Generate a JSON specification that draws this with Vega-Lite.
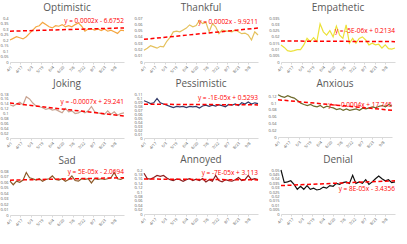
{
"$schema":"https://vega.github.io/schema/vega-lite/v6.json",
"background":"white",
"padding":{"left":0,"top":3,"right":0,"bottom":0},
"config":{"view":{"stroke":null},"font":"Open Sans","axis":{"labelOverlap":false}},
"data":{"values":[
{"emotion":"Optimistic","kind":"line","date":"2018-04-01","value":0.2},{"emotion":"Optimistic","kind":"line","date":"2018-04-06","value":0.215},{"emotion":"Optimistic","kind":"line","date":"2018-04-11","value":0.23},{"emotion":"Optimistic","kind":"line","date":"2018-04-16","value":0.22},{"emotion":"Optimistic","kind":"line","date":"2018-04-21","value":0.21},{"emotion":"Optimistic","kind":"line","date":"2018-04-26","value":0.23},{"emotion":"Optimistic","kind":"line","date":"2018-05-01","value":0.26},{"emotion":"Optimistic","kind":"line","date":"2018-05-06","value":0.29},{"emotion":"Optimistic","kind":"line","date":"2018-05-11","value":0.32},{"emotion":"Optimistic","kind":"line","date":"2018-05-16","value":0.33},{"emotion":"Optimistic","kind":"line","date":"2018-05-21","value":0.36},{"emotion":"Optimistic","kind":"line","date":"2018-05-26","value":0.34},{"emotion":"Optimistic","kind":"line","date":"2018-05-31","value":0.32},{"emotion":"Optimistic","kind":"line","date":"2018-06-05","value":0.31},{"emotion":"Optimistic","kind":"line","date":"2018-06-10","value":0.33},{"emotion":"Optimistic","kind":"line","date":"2018-06-15","value":0.325},{"emotion":"Optimistic","kind":"line","date":"2018-06-20","value":0.34},{"emotion":"Optimistic","kind":"line","date":"2018-06-25","value":0.32},{"emotion":"Optimistic","kind":"line","date":"2018-06-30","value":0.33},{"emotion":"Optimistic","kind":"line","date":"2018-07-05","value":0.32},{"emotion":"Optimistic","kind":"line","date":"2018-07-10","value":0.34},{"emotion":"Optimistic","kind":"line","date":"2018-07-15","value":0.355},{"emotion":"Optimistic","kind":"line","date":"2018-07-20","value":0.325},{"emotion":"Optimistic","kind":"line","date":"2018-07-25","value":0.28},{"emotion":"Optimistic","kind":"line","date":"2018-07-30","value":0.3},{"emotion":"Optimistic","kind":"line","date":"2018-08-04","value":0.3},{"emotion":"Optimistic","kind":"line","date":"2018-08-09","value":0.29},{"emotion":"Optimistic","kind":"line","date":"2018-08-14","value":0.3},{"emotion":"Optimistic","kind":"line","date":"2018-08-19","value":0.285},{"emotion":"Optimistic","kind":"line","date":"2018-08-24","value":0.3},{"emotion":"Optimistic","kind":"line","date":"2018-08-29","value":0.28},{"emotion":"Optimistic","kind":"line","date":"2018-09-03","value":0.29},{"emotion":"Optimistic","kind":"line","date":"2018-09-08","value":0.275},{"emotion":"Optimistic","kind":"line","date":"2018-09-13","value":0.26},{"emotion":"Optimistic","kind":"line","date":"2018-09-18","value":0.29},{"emotion":"Optimistic","kind":"line","date":"2018-09-23","value":0.285},
{"emotion":"Thankful","kind":"line","date":"2018-04-01","value":0.0185},{"emotion":"Thankful","kind":"line","date":"2018-04-06","value":0.022},{"emotion":"Thankful","kind":"line","date":"2018-04-11","value":0.026},{"emotion":"Thankful","kind":"line","date":"2018-04-16","value":0.024},{"emotion":"Thankful","kind":"line","date":"2018-04-21","value":0.022},{"emotion":"Thankful","kind":"line","date":"2018-04-26","value":0.025},{"emotion":"Thankful","kind":"line","date":"2018-05-01","value":0.024},{"emotion":"Thankful","kind":"line","date":"2018-05-06","value":0.033},{"emotion":"Thankful","kind":"line","date":"2018-05-11","value":0.039},{"emotion":"Thankful","kind":"line","date":"2018-05-16","value":0.048},{"emotion":"Thankful","kind":"line","date":"2018-05-21","value":0.049},{"emotion":"Thankful","kind":"line","date":"2018-05-26","value":0.048},{"emotion":"Thankful","kind":"line","date":"2018-05-31","value":0.051},{"emotion":"Thankful","kind":"line","date":"2018-06-05","value":0.054},{"emotion":"Thankful","kind":"line","date":"2018-06-10","value":0.059},{"emotion":"Thankful","kind":"line","date":"2018-06-15","value":0.056},{"emotion":"Thankful","kind":"line","date":"2018-06-20","value":0.058},{"emotion":"Thankful","kind":"line","date":"2018-06-25","value":0.066},{"emotion":"Thankful","kind":"line","date":"2018-06-30","value":0.061},{"emotion":"Thankful","kind":"line","date":"2018-07-05","value":0.063},{"emotion":"Thankful","kind":"line","date":"2018-07-10","value":0.048},{"emotion":"Thankful","kind":"line","date":"2018-07-15","value":0.061},{"emotion":"Thankful","kind":"line","date":"2018-07-20","value":0.056},{"emotion":"Thankful","kind":"line","date":"2018-07-25","value":0.045},{"emotion":"Thankful","kind":"line","date":"2018-07-30","value":0.051},{"emotion":"Thankful","kind":"line","date":"2018-08-04","value":0.049},{"emotion":"Thankful","kind":"line","date":"2018-08-09","value":0.049},{"emotion":"Thankful","kind":"line","date":"2018-08-14","value":0.048},{"emotion":"Thankful","kind":"line","date":"2018-08-19","value":0.051},{"emotion":"Thankful","kind":"line","date":"2018-08-24","value":0.048},{"emotion":"Thankful","kind":"line","date":"2018-08-29","value":0.045},{"emotion":"Thankful","kind":"line","date":"2018-09-03","value":0.046},{"emotion":"Thankful","kind":"line","date":"2018-09-08","value":0.043},{"emotion":"Thankful","kind":"line","date":"2018-09-13","value":0.035},{"emotion":"Thankful","kind":"line","date":"2018-09-18","value":0.048},{"emotion":"Thankful","kind":"line","date":"2018-09-23","value":0.043},
{"emotion":"Empathetic","kind":"line","date":"2018-04-01","value":0.0136},{"emotion":"Empathetic","kind":"line","date":"2018-04-06","value":0.0116},{"emotion":"Empathetic","kind":"line","date":"2018-04-11","value":0.009},{"emotion":"Empathetic","kind":"line","date":"2018-04-16","value":0.0085},{"emotion":"Empathetic","kind":"line","date":"2018-04-21","value":0.009},{"emotion":"Empathetic","kind":"line","date":"2018-04-26","value":0.0098},{"emotion":"Empathetic","kind":"line","date":"2018-05-01","value":0.0098},{"emotion":"Empathetic","kind":"line","date":"2018-05-06","value":0.0136},{"emotion":"Empathetic","kind":"line","date":"2018-05-11","value":0.0188},{"emotion":"Empathetic","kind":"line","date":"2018-05-16","value":0.0162},{"emotion":"Empathetic","kind":"line","date":"2018-05-21","value":0.0193},{"emotion":"Empathetic","kind":"line","date":"2018-05-26","value":0.0162},{"emotion":"Empathetic","kind":"line","date":"2018-05-31","value":0.0304},{"emotion":"Empathetic","kind":"line","date":"2018-06-05","value":0.024},{"emotion":"Empathetic","kind":"line","date":"2018-06-10","value":0.0214},{"emotion":"Empathetic","kind":"line","date":"2018-06-15","value":0.025},{"emotion":"Empathetic","kind":"line","date":"2018-06-20","value":0.02},{"emotion":"Empathetic","kind":"line","date":"2018-06-25","value":0.0286},{"emotion":"Empathetic","kind":"line","date":"2018-06-30","value":0.0214},{"emotion":"Empathetic","kind":"line","date":"2018-07-05","value":0.0188},{"emotion":"Empathetic","kind":"line","date":"2018-07-10","value":0.0296},{"emotion":"Empathetic","kind":"line","date":"2018-07-15","value":0.0149},{"emotion":"Empathetic","kind":"line","date":"2018-07-20","value":0.0188},{"emotion":"Empathetic","kind":"line","date":"2018-07-25","value":0.0149},{"emotion":"Empathetic","kind":"line","date":"2018-07-30","value":0.0188},{"emotion":"Empathetic","kind":"line","date":"2018-08-04","value":0.02},{"emotion":"Empathetic","kind":"line","date":"2018-08-09","value":0.0175},{"emotion":"Empathetic","kind":"line","date":"2018-08-14","value":0.0136},{"emotion":"Empathetic","kind":"line","date":"2018-08-19","value":0.0149},{"emotion":"Empathetic","kind":"line","date":"2018-08-24","value":0.0136},{"emotion":"Empathetic","kind":"line","date":"2018-08-29","value":0.0141},{"emotion":"Empathetic","kind":"line","date":"2018-09-03","value":0.0111},{"emotion":"Empathetic","kind":"line","date":"2018-09-08","value":0.0136},{"emotion":"Empathetic","kind":"line","date":"2018-09-13","value":0.0106},{"emotion":"Empathetic","kind":"line","date":"2018-09-18","value":0.0103},{"emotion":"Empathetic","kind":"line","date":"2018-09-23","value":0.0111},
{"emotion":"Joking","kind":"line","date":"2018-04-01","value":0.136},{"emotion":"Joking","kind":"line","date":"2018-04-06","value":0.131},{"emotion":"Joking","kind":"line","date":"2018-04-11","value":0.139},{"emotion":"Joking","kind":"line","date":"2018-04-16","value":0.146},{"emotion":"Joking","kind":"line","date":"2018-04-21","value":0.136},{"emotion":"Joking","kind":"line","date":"2018-04-26","value":0.169},{"emotion":"Joking","kind":"line","date":"2018-05-01","value":0.16},{"emotion":"Joking","kind":"line","date":"2018-05-06","value":0.143},{"emotion":"Joking","kind":"line","date":"2018-05-11","value":0.131},{"emotion":"Joking","kind":"line","date":"2018-05-16","value":0.129},{"emotion":"Joking","kind":"line","date":"2018-05-21","value":0.124},{"emotion":"Joking","kind":"line","date":"2018-05-26","value":0.117},{"emotion":"Joking","kind":"line","date":"2018-05-31","value":0.121},{"emotion":"Joking","kind":"line","date":"2018-06-05","value":0.114},{"emotion":"Joking","kind":"line","date":"2018-06-10","value":0.117},{"emotion":"Joking","kind":"line","date":"2018-06-15","value":0.11},{"emotion":"Joking","kind":"line","date":"2018-06-20","value":0.103},{"emotion":"Joking","kind":"line","date":"2018-06-25","value":0.121},{"emotion":"Joking","kind":"line","date":"2018-06-30","value":0.107},{"emotion":"Joking","kind":"line","date":"2018-07-05","value":0.111},{"emotion":"Joking","kind":"line","date":"2018-07-10","value":0.1},{"emotion":"Joking","kind":"line","date":"2018-07-15","value":0.103},{"emotion":"Joking","kind":"line","date":"2018-07-20","value":0.111},{"emotion":"Joking","kind":"line","date":"2018-07-25","value":0.103},{"emotion":"Joking","kind":"line","date":"2018-07-30","value":0.111},{"emotion":"Joking","kind":"line","date":"2018-08-04","value":0.129},{"emotion":"Joking","kind":"line","date":"2018-08-09","value":0.107},{"emotion":"Joking","kind":"line","date":"2018-08-14","value":0.103},{"emotion":"Joking","kind":"line","date":"2018-08-19","value":0.1},{"emotion":"Joking","kind":"line","date":"2018-08-24","value":0.097},{"emotion":"Joking","kind":"line","date":"2018-08-29","value":0.111},{"emotion":"Joking","kind":"line","date":"2018-09-03","value":0.097},{"emotion":"Joking","kind":"line","date":"2018-09-08","value":0.107},{"emotion":"Joking","kind":"line","date":"2018-09-13","value":0.093},{"emotion":"Joking","kind":"line","date":"2018-09-18","value":0.1},{"emotion":"Joking","kind":"line","date":"2018-09-23","value":0.103},
{"emotion":"Pessimistic","kind":"line","date":"2018-04-01","value":0.093},{"emotion":"Pessimistic","kind":"line","date":"2018-04-06","value":0.09},{"emotion":"Pessimistic","kind":"line","date":"2018-04-11","value":0.086},{"emotion":"Pessimistic","kind":"line","date":"2018-04-16","value":0.088},{"emotion":"Pessimistic","kind":"line","date":"2018-04-21","value":0.099},{"emotion":"Pessimistic","kind":"line","date":"2018-04-26","value":0.088},{"emotion":"Pessimistic","kind":"line","date":"2018-05-01","value":0.085},{"emotion":"Pessimistic","kind":"line","date":"2018-05-06","value":0.082},{"emotion":"Pessimistic","kind":"line","date":"2018-05-11","value":0.079},{"emotion":"Pessimistic","kind":"line","date":"2018-05-16","value":0.076},{"emotion":"Pessimistic","kind":"line","date":"2018-05-21","value":0.079},{"emotion":"Pessimistic","kind":"line","date":"2018-05-26","value":0.078},{"emotion":"Pessimistic","kind":"line","date":"2018-05-31","value":0.079},{"emotion":"Pessimistic","kind":"line","date":"2018-06-05","value":0.076},{"emotion":"Pessimistic","kind":"line","date":"2018-06-10","value":0.079},{"emotion":"Pessimistic","kind":"line","date":"2018-06-15","value":0.078},{"emotion":"Pessimistic","kind":"line","date":"2018-06-20","value":0.079},{"emotion":"Pessimistic","kind":"line","date":"2018-06-25","value":0.075},{"emotion":"Pessimistic","kind":"line","date":"2018-06-30","value":0.08},{"emotion":"Pessimistic","kind":"line","date":"2018-07-05","value":0.082},{"emotion":"Pessimistic","kind":"line","date":"2018-07-10","value":0.079},{"emotion":"Pessimistic","kind":"line","date":"2018-07-15","value":0.082},{"emotion":"Pessimistic","kind":"line","date":"2018-07-20","value":0.08},{"emotion":"Pessimistic","kind":"line","date":"2018-07-25","value":0.083},{"emotion":"Pessimistic","kind":"line","date":"2018-07-30","value":0.081},{"emotion":"Pessimistic","kind":"line","date":"2018-08-04","value":0.078},{"emotion":"Pessimistic","kind":"line","date":"2018-08-09","value":0.084},{"emotion":"Pessimistic","kind":"line","date":"2018-08-14","value":0.082},{"emotion":"Pessimistic","kind":"line","date":"2018-08-19","value":0.085},{"emotion":"Pessimistic","kind":"line","date":"2018-08-24","value":0.081},{"emotion":"Pessimistic","kind":"line","date":"2018-08-29","value":0.088},{"emotion":"Pessimistic","kind":"line","date":"2018-09-03","value":0.085},{"emotion":"Pessimistic","kind":"line","date":"2018-09-08","value":0.09},{"emotion":"Pessimistic","kind":"line","date":"2018-09-13","value":0.085},{"emotion":"Pessimistic","kind":"line","date":"2018-09-18","value":0.088},{"emotion":"Pessimistic","kind":"line","date":"2018-09-23","value":0.086},
{"emotion":"Anxious","kind":"line","date":"2018-04-01","value":0.125},{"emotion":"Anxious","kind":"line","date":"2018-04-06","value":0.12},{"emotion":"Anxious","kind":"line","date":"2018-04-11","value":0.117},{"emotion":"Anxious","kind":"line","date":"2018-04-16","value":0.122},{"emotion":"Anxious","kind":"line","date":"2018-04-21","value":0.118},{"emotion":"Anxious","kind":"line","date":"2018-04-26","value":0.115},{"emotion":"Anxious","kind":"line","date":"2018-05-01","value":0.108},{"emotion":"Anxious","kind":"line","date":"2018-05-06","value":0.1},{"emotion":"Anxious","kind":"line","date":"2018-05-11","value":0.096},{"emotion":"Anxious","kind":"line","date":"2018-05-16","value":0.093},{"emotion":"Anxious","kind":"line","date":"2018-05-21","value":0.096},{"emotion":"Anxious","kind":"line","date":"2018-05-26","value":0.091},{"emotion":"Anxious","kind":"line","date":"2018-05-31","value":0.089},{"emotion":"Anxious","kind":"line","date":"2018-06-05","value":0.093},{"emotion":"Anxious","kind":"line","date":"2018-06-10","value":0.086},{"emotion":"Anxious","kind":"line","date":"2018-06-15","value":0.091},{"emotion":"Anxious","kind":"line","date":"2018-06-20","value":0.088},{"emotion":"Anxious","kind":"line","date":"2018-06-25","value":0.086},{"emotion":"Anxious","kind":"line","date":"2018-06-30","value":0.081},{"emotion":"Anxious","kind":"line","date":"2018-07-05","value":0.084},{"emotion":"Anxious","kind":"line","date":"2018-07-10","value":0.079},{"emotion":"Anxious","kind":"line","date":"2018-07-15","value":0.083},{"emotion":"Anxious","kind":"line","date":"2018-07-20","value":0.079},{"emotion":"Anxious","kind":"line","date":"2018-07-25","value":0.081},{"emotion":"Anxious","kind":"line","date":"2018-07-30","value":0.083},{"emotion":"Anxious","kind":"line","date":"2018-08-04","value":0.079},{"emotion":"Anxious","kind":"line","date":"2018-08-09","value":0.085},{"emotion":"Anxious","kind":"line","date":"2018-08-14","value":0.083},{"emotion":"Anxious","kind":"line","date":"2018-08-19","value":0.086},{"emotion":"Anxious","kind":"line","date":"2018-08-24","value":0.089},{"emotion":"Anxious","kind":"line","date":"2018-08-29","value":0.086},{"emotion":"Anxious","kind":"line","date":"2018-09-03","value":0.091},{"emotion":"Anxious","kind":"line","date":"2018-09-08","value":0.093},{"emotion":"Anxious","kind":"line","date":"2018-09-13","value":0.089},{"emotion":"Anxious","kind":"line","date":"2018-09-18","value":0.096},{"emotion":"Anxious","kind":"line","date":"2018-09-23","value":0.091},
{"emotion":"Sad","kind":"line","date":"2018-04-01","value":0.0615},{"emotion":"Sad","kind":"line","date":"2018-04-06","value":0.055},{"emotion":"Sad","kind":"line","date":"2018-04-11","value":0.0615},{"emotion":"Sad","kind":"line","date":"2018-04-16","value":0.0596},{"emotion":"Sad","kind":"line","date":"2018-04-21","value":0.0634},{"emotion":"Sad","kind":"line","date":"2018-04-26","value":0.0773},{"emotion":"Sad","kind":"line","date":"2018-05-01","value":0.0678},{"emotion":"Sad","kind":"line","date":"2018-05-06","value":0.0659},{"emotion":"Sad","kind":"line","date":"2018-05-11","value":0.0634},{"emotion":"Sad","kind":"line","date":"2018-05-16","value":0.0659},{"emotion":"Sad","kind":"line","date":"2018-05-21","value":0.0615},{"emotion":"Sad","kind":"line","date":"2018-05-26","value":0.0646},{"emotion":"Sad","kind":"line","date":"2018-05-31","value":0.0659},{"emotion":"Sad","kind":"line","date":"2018-06-05","value":0.071},{"emotion":"Sad","kind":"line","date":"2018-06-10","value":0.0646},{"emotion":"Sad","kind":"line","date":"2018-06-15","value":0.0634},{"emotion":"Sad","kind":"line","date":"2018-06-20","value":0.0659},{"emotion":"Sad","kind":"line","date":"2018-06-25","value":0.0615},{"emotion":"Sad","kind":"line","date":"2018-06-30","value":0.0646},{"emotion":"Sad","kind":"line","date":"2018-07-05","value":0.071},{"emotion":"Sad","kind":"line","date":"2018-07-10","value":0.0627},{"emotion":"Sad","kind":"line","date":"2018-07-15","value":0.0615},{"emotion":"Sad","kind":"line","date":"2018-07-20","value":0.0659},{"emotion":"Sad","kind":"line","date":"2018-07-25","value":0.0646},{"emotion":"Sad","kind":"line","date":"2018-07-30","value":0.0659},{"emotion":"Sad","kind":"line","date":"2018-08-04","value":0.0583},{"emotion":"Sad","kind":"line","date":"2018-08-09","value":0.0659},{"emotion":"Sad","kind":"line","date":"2018-08-14","value":0.0646},{"emotion":"Sad","kind":"line","date":"2018-08-19","value":0.0659},{"emotion":"Sad","kind":"line","date":"2018-08-24","value":0.0646},{"emotion":"Sad","kind":"line","date":"2018-08-29","value":0.0659},{"emotion":"Sad","kind":"line","date":"2018-09-03","value":0.0678},{"emotion":"Sad","kind":"line","date":"2018-09-08","value":0.0773},{"emotion":"Sad","kind":"line","date":"2018-09-13","value":0.0659},{"emotion":"Sad","kind":"line","date":"2018-09-18","value":0.0646},{"emotion":"Sad","kind":"line","date":"2018-09-23","value":0.0678},
{"emotion":"Annoyed","kind":"line","date":"2018-04-01","value":0.185},{"emotion":"Annoyed","kind":"line","date":"2018-04-06","value":0.161},{"emotion":"Annoyed","kind":"line","date":"2018-04-11","value":0.159},{"emotion":"Annoyed","kind":"line","date":"2018-04-16","value":0.166},{"emotion":"Annoyed","kind":"line","date":"2018-04-21","value":0.175},{"emotion":"Annoyed","kind":"line","date":"2018-04-26","value":0.171},{"emotion":"Annoyed","kind":"line","date":"2018-05-01","value":0.175},{"emotion":"Annoyed","kind":"line","date":"2018-05-06","value":0.164},{"emotion":"Annoyed","kind":"line","date":"2018-05-11","value":0.156},{"emotion":"Annoyed","kind":"line","date":"2018-05-16","value":0.152},{"emotion":"Annoyed","kind":"line","date":"2018-05-21","value":0.159},{"emotion":"Annoyed","kind":"line","date":"2018-05-26","value":0.156},{"emotion":"Annoyed","kind":"line","date":"2018-05-31","value":0.149},{"emotion":"Annoyed","kind":"line","date":"2018-06-05","value":0.156},{"emotion":"Annoyed","kind":"line","date":"2018-06-10","value":0.161},{"emotion":"Annoyed","kind":"line","date":"2018-06-15","value":0.152},{"emotion":"Annoyed","kind":"line","date":"2018-06-20","value":0.158},{"emotion":"Annoyed","kind":"line","date":"2018-06-25","value":0.152},{"emotion":"Annoyed","kind":"line","date":"2018-06-30","value":0.161},{"emotion":"Annoyed","kind":"line","date":"2018-07-05","value":0.146},{"emotion":"Annoyed","kind":"line","date":"2018-07-10","value":0.156},{"emotion":"Annoyed","kind":"line","date":"2018-07-15","value":0.149},{"emotion":"Annoyed","kind":"line","date":"2018-07-20","value":0.175},{"emotion":"Annoyed","kind":"line","date":"2018-07-25","value":0.152},{"emotion":"Annoyed","kind":"line","date":"2018-07-30","value":0.146},{"emotion":"Annoyed","kind":"line","date":"2018-08-04","value":0.156},{"emotion":"Annoyed","kind":"line","date":"2018-08-09","value":0.152},{"emotion":"Annoyed","kind":"line","date":"2018-08-14","value":0.149},{"emotion":"Annoyed","kind":"line","date":"2018-08-19","value":0.156},{"emotion":"Annoyed","kind":"line","date":"2018-08-24","value":0.166},{"emotion":"Annoyed","kind":"line","date":"2018-08-29","value":0.152},{"emotion":"Annoyed","kind":"line","date":"2018-09-03","value":0.156},{"emotion":"Annoyed","kind":"line","date":"2018-09-08","value":0.175},{"emotion":"Annoyed","kind":"line","date":"2018-09-13","value":0.156},{"emotion":"Annoyed","kind":"line","date":"2018-09-18","value":0.161},{"emotion":"Annoyed","kind":"line","date":"2018-09-23","value":0.156},
{"emotion":"Denial","kind":"line","date":"2018-04-01","value":0.05},{"emotion":"Denial","kind":"line","date":"2018-04-06","value":0.0357},{"emotion":"Denial","kind":"line","date":"2018-04-11","value":0.0365},{"emotion":"Denial","kind":"line","date":"2018-04-16","value":0.0378},{"emotion":"Denial","kind":"line","date":"2018-04-21","value":0.0336},{"emotion":"Denial","kind":"line","date":"2018-04-26","value":0.0281},{"emotion":"Denial","kind":"line","date":"2018-05-01","value":0.0315},{"emotion":"Denial","kind":"line","date":"2018-05-06","value":0.0281},{"emotion":"Denial","kind":"line","date":"2018-05-11","value":0.0323},{"emotion":"Denial","kind":"line","date":"2018-05-16","value":0.0281},{"emotion":"Denial","kind":"line","date":"2018-05-21","value":0.0294},{"emotion":"Denial","kind":"line","date":"2018-05-26","value":0.0273},{"emotion":"Denial","kind":"line","date":"2018-05-31","value":0.0281},{"emotion":"Denial","kind":"line","date":"2018-06-05","value":0.0306},{"emotion":"Denial","kind":"line","date":"2018-06-10","value":0.0294},{"emotion":"Denial","kind":"line","date":"2018-06-15","value":0.0323},{"emotion":"Denial","kind":"line","date":"2018-06-20","value":0.0315},{"emotion":"Denial","kind":"line","date":"2018-06-25","value":0.0348},{"emotion":"Denial","kind":"line","date":"2018-06-30","value":0.0336},{"emotion":"Denial","kind":"line","date":"2018-07-05","value":0.0357},{"emotion":"Denial","kind":"line","date":"2018-07-10","value":0.0365},{"emotion":"Denial","kind":"line","date":"2018-07-15","value":0.0348},{"emotion":"Denial","kind":"line","date":"2018-07-20","value":0.044},{"emotion":"Denial","kind":"line","date":"2018-07-25","value":0.0348},{"emotion":"Denial","kind":"line","date":"2018-07-30","value":0.0365},{"emotion":"Denial","kind":"line","date":"2018-08-04","value":0.0348},{"emotion":"Denial","kind":"line","date":"2018-08-09","value":0.039},{"emotion":"Denial","kind":"line","date":"2018-08-14","value":0.0336},{"emotion":"Denial","kind":"line","date":"2018-08-19","value":0.0365},{"emotion":"Denial","kind":"line","date":"2018-08-24","value":0.04},{"emotion":"Denial","kind":"line","date":"2018-08-29","value":0.0432},{"emotion":"Denial","kind":"line","date":"2018-09-03","value":0.04},{"emotion":"Denial","kind":"line","date":"2018-09-08","value":0.0378},{"emotion":"Denial","kind":"line","date":"2018-09-13","value":0.039},{"emotion":"Denial","kind":"line","date":"2018-09-18","value":0.0357},{"emotion":"Denial","kind":"line","date":"2018-09-23","value":0.0365},
{"emotion":"Optimistic","kind":"trend","date":"2018-04-01","value":0.28},{"emotion":"Optimistic","kind":"trend","date":"2018-09-23","value":0.31},
{"emotion":"Thankful","kind":"trend","date":"2018-04-01","value":0.036},{"emotion":"Thankful","kind":"trend","date":"2018-09-23","value":0.054},
{"emotion":"Empathetic","kind":"trend","date":"2018-04-01","value":0.0167},{"emotion":"Empathetic","kind":"trend","date":"2018-09-23","value":0.0162},
{"emotion":"Joking","kind":"trend","date":"2018-04-01","value":0.143},{"emotion":"Joking","kind":"trend","date":"2018-09-23","value":0.09},
{"emotion":"Pessimistic","kind":"trend","date":"2018-04-01","value":0.0845},{"emotion":"Pessimistic","kind":"trend","date":"2018-09-23","value":0.0828},
{"emotion":"Anxious","kind":"trend","date":"2018-04-01","value":0.11},{"emotion":"Anxious","kind":"trend","date":"2018-09-23","value":0.079},
{"emotion":"Sad","kind":"trend","date":"2018-04-01","value":0.0634},{"emotion":"Sad","kind":"trend","date":"2018-09-23","value":0.0678},
{"emotion":"Annoyed","kind":"trend","date":"2018-04-01","value":0.159},{"emotion":"Annoyed","kind":"trend","date":"2018-09-23","value":0.155},
{"emotion":"Denial","kind":"trend","date":"2018-04-01","value":0.0323},{"emotion":"Denial","kind":"trend","date":"2018-09-23","value":0.0378},
{"emotion":"Optimistic","kind":"label","date":"2018-09-23","value":0.37,"text":"y = 0.0002x - 6.6752"},
{"emotion":"Thankful","kind":"label","date":"2018-09-23","value":0.064,"text":"y = 0.0002x - 9.9211"},
{"emotion":"Empathetic","kind":"label","date":"2018-09-23","value":0.025,"text":"y = -5E-06x + 0.2134"},
{"emotion":"Joking","kind":"label","date":"2018-09-23","value":0.146,"text":"y = -0.0007x + 29.241"},
{"emotion":"Pessimistic","kind":"label","date":"2018-09-23","value":0.101,"text":"y = -1E-05x + 0.5293"},
{"emotion":"Anxious","kind":"label","date":"2018-09-23","value":0.094,"text":"y = -0.0004x + 17.745"},
{"emotion":"Sad","kind":"label","date":"2018-09-23","value":0.079,"text":"y = 5E-05x - 2.0694"},
{"emotion":"Annoyed","kind":"label","date":"2018-09-23","value":0.185,"text":"y = -7E-05x + 3.113"},
{"emotion":"Denial","kind":"label","date":"2018-09-23","value":0.028,"text":"y = 8E-05x - 3.4356"}
]},
"facet":{"field":"emotion","type":"nominal","sort":["Optimistic","Thankful","Empathetic","Joking","Pessimistic","Anxious","Sad","Annoyed","Denial"],
  "header":{"title":null,"labelFontSize":10,"labelColor":"#595959","labelFont":"Open Sans","labelPadding":3}},
"columns":3,
"spacing":{"row":5,"column":7},
"resolve":{"scale":{"y":"independent"},"axis":{"x":"independent","y":"independent"}},
"spec":{
  "width":114,"height":44,
  "encoding":{
    "x":{"field":"date","type":"temporal","title":null,
         "axis":{"values":["2018-04-01","2018-04-17","2018-05-03","2018-05-19","2018-06-04","2018-06-20","2018-07-06","2018-07-22","2018-08-07","2018-08-23","2018-09-08"],
                 "format":"%-m/%-d","labelAngle":-45,"labelFontSize":4,"labelColor":"#595959","grid":false,"domainColor":"#D9D9D9","tickColor":"#D9D9D9","tickSize":2,"labelPadding":1,"labelFlush":false,"labelOverlap":false,"labelBound":false}},
    "y":{"field":"value","type":"quantitative","title":null,"scale":{"zero":true,"nice":true},
         "axis":{"tickCount":8,"format":".3~f","labelFontSize":4,"labelColor":"#595959","grid":false,"domain":false,"ticks":false,"labelPadding":2}}
  },
  "layer":[
    {"transform":[{"filter":"datum.kind === 'line'"}],
     "mark":{"type":"line","strokeWidth":1.2},
     "encoding":{
       "color":{"field":"emotion","type":"nominal","legend":null,
            "scale":{"domain":["Optimistic","Thankful","Empathetic","Joking","Pessimistic","Anxious","Sad","Annoyed","Denial"],
                     "range":["#F5A742","#E5C15C","#ECE23A","#C9A593","#323A68","#6E6A2C","#8C5A28","#8B1E1E","#111111"]}}
     }},
    {"transform":[{"filter":"datum.kind === 'trend'"}],
     "mark":{"type":"line","color":"#FF0000","strokeWidth":1.5,"strokeDash":[4,2.5]},
     "encoding":{}},
    {"transform":[{"filter":"datum.kind === 'label'"}],
     "mark":{"type":"text","color":"#FF0000","fontSize":6.5,"align":"right","baseline":"middle","font":"Open Sans"},
     "encoding":{"text":{"field":"text"}}}
  ]
}
}
